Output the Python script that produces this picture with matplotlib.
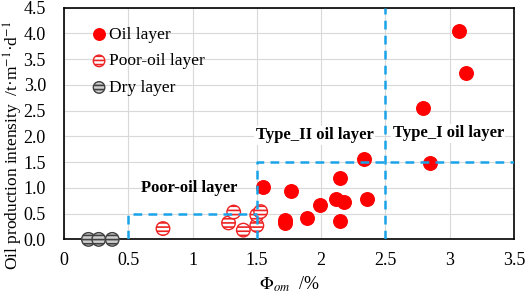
import matplotlib
matplotlib.use("Agg")
import matplotlib.pyplot as plt

plt.rcParams['font.family'] = ['Liberation Serif', 'DejaVu Serif']
plt.rcParams['mathtext.fontset'] = 'stix'
plt.rcParams['hatch.linewidth'] = 1.2

oil_x = [3.07, 3.13, 2.79, 2.335, 2.85, 2.146, 1.55, 1.765, 1.99, 2.115, 2.18, 2.36, 1.89, 2.15, 1.72, 1.72]
oil_y = [4.05, 3.23, 2.56, 1.57, 1.49, 1.20, 1.02, 0.94, 0.67, 0.78, 0.73, 0.78, 0.42, 0.36, 0.38, 0.32]
poor_x = [0.77, 1.28, 1.32, 1.395, 1.50, 1.50, 1.53]
poor_y = [0.21, 0.32, 0.53, 0.18, 0.27, 0.47, 0.54]
dry_x = [0.19, 0.27, 0.375]
dry_y = [0.0, 0.0, 0.0]

xticks = [0, 0.5, 1, 1.5, 2, 2.5, 3, 3.5]
xticklabels = ['0', '0.5', '1', '1.5', '2', '2.5', '3', '3.5']
yticks = [0.0, 0.5, 1.0, 1.5, 2.0, 2.5, 3.0, 3.5, 4.0, 4.5]
yticklabels = ['0.0', '0.5', '1.0', '1.5', '2.0', '2.5', '3.0', '3.5', '4.0', '4.5']

fig = plt.figure(figsize=(5.26, 2.93), dpi=100)
ax = fig.add_axes([0.1217, 0.183, 0.977 - 0.1217, 0.974 - 0.183])

blue = '#1aa3e8'
dash = dict(color=blue, lw=1.8, ls=(0, (3.5, 2.5)), zorder=4)
ax.plot([0.5, 0.5, 1.5], [0, 0.5, 0.5], **dash)
ax.plot([1.5, 1.5, 3.5], [0, 1.5, 1.5], **dash)
ax.plot([2.5, 2.5], [0, 4.5], **dash)

ax.scatter(oil_x, oil_y, s=95, color='#ff0000', edgecolors='#ff0000', zorder=3, label='Oil layer')
ax.scatter(poor_x, poor_y, s=95, facecolor='white', edgecolors='#ee2222', hatch='----',
           linewidths=1.0, zorder=3, label='Poor-oil layer')
ax.scatter(dry_x, dry_y, s=95, facecolor='#d0d0d0', edgecolors='#404040', hatch='----',
           linewidths=1.0, zorder=5, label='Dry layer', clip_on=False)

ax.set_xlim(0, 3.5)
ax.set_ylim(0, 4.5)
ax.set_xticks(xticks)
ax.set_xticklabels(xticklabels)
ax.set_yticks(yticks)
ax.set_yticklabels(yticklabels)
ax.tick_params(axis='y', length=0, labelsize=13, pad=13)
ax.tick_params(axis='x', length=0, labelsize=13, pad=9)
ax.grid(True, color='#d9d9d9', lw=0.8)
ax.set_axisbelow(True)
for s in ax.spines.values():
    s.set_color('black')
    s.set_linewidth(1.2)

ax.text(0.97, 1.0, 'Poor-oil layer', fontsize=12, fontweight='bold', ha='center', va='center')
ax.text(1.95, 2.02, 'Type_II oil layer', fontsize=12, fontweight='bold', ha='center', va='center',
        bbox=dict(facecolor='white', edgecolor='none', pad=1))
ax.text(2.99, 2.06, 'Type_I oil layer', fontsize=12, fontweight='bold', ha='center', va='center',
        bbox=dict(facecolor='white', edgecolor='none', pad=1))

fig.text(0.025, 0.505, 'Oil production intensity  /t·m$^{-1}$·d$^{-1}$', fontsize=12.5,
         rotation=90, ha='center', va='center')
ax.set_xlabel(r'$\mathit{\Phi}_{om}$  /%', fontsize=13, labelpad=4)

leg = ax.legend(loc='upper left', bbox_to_anchor=(0.02, 0.985), frameon=False, fontsize=12.5,
                handletextpad=0.0, labelspacing=0.6, handlelength=1.2, markerscale=0.85)

fig.savefig('out.png', dpi=100)
